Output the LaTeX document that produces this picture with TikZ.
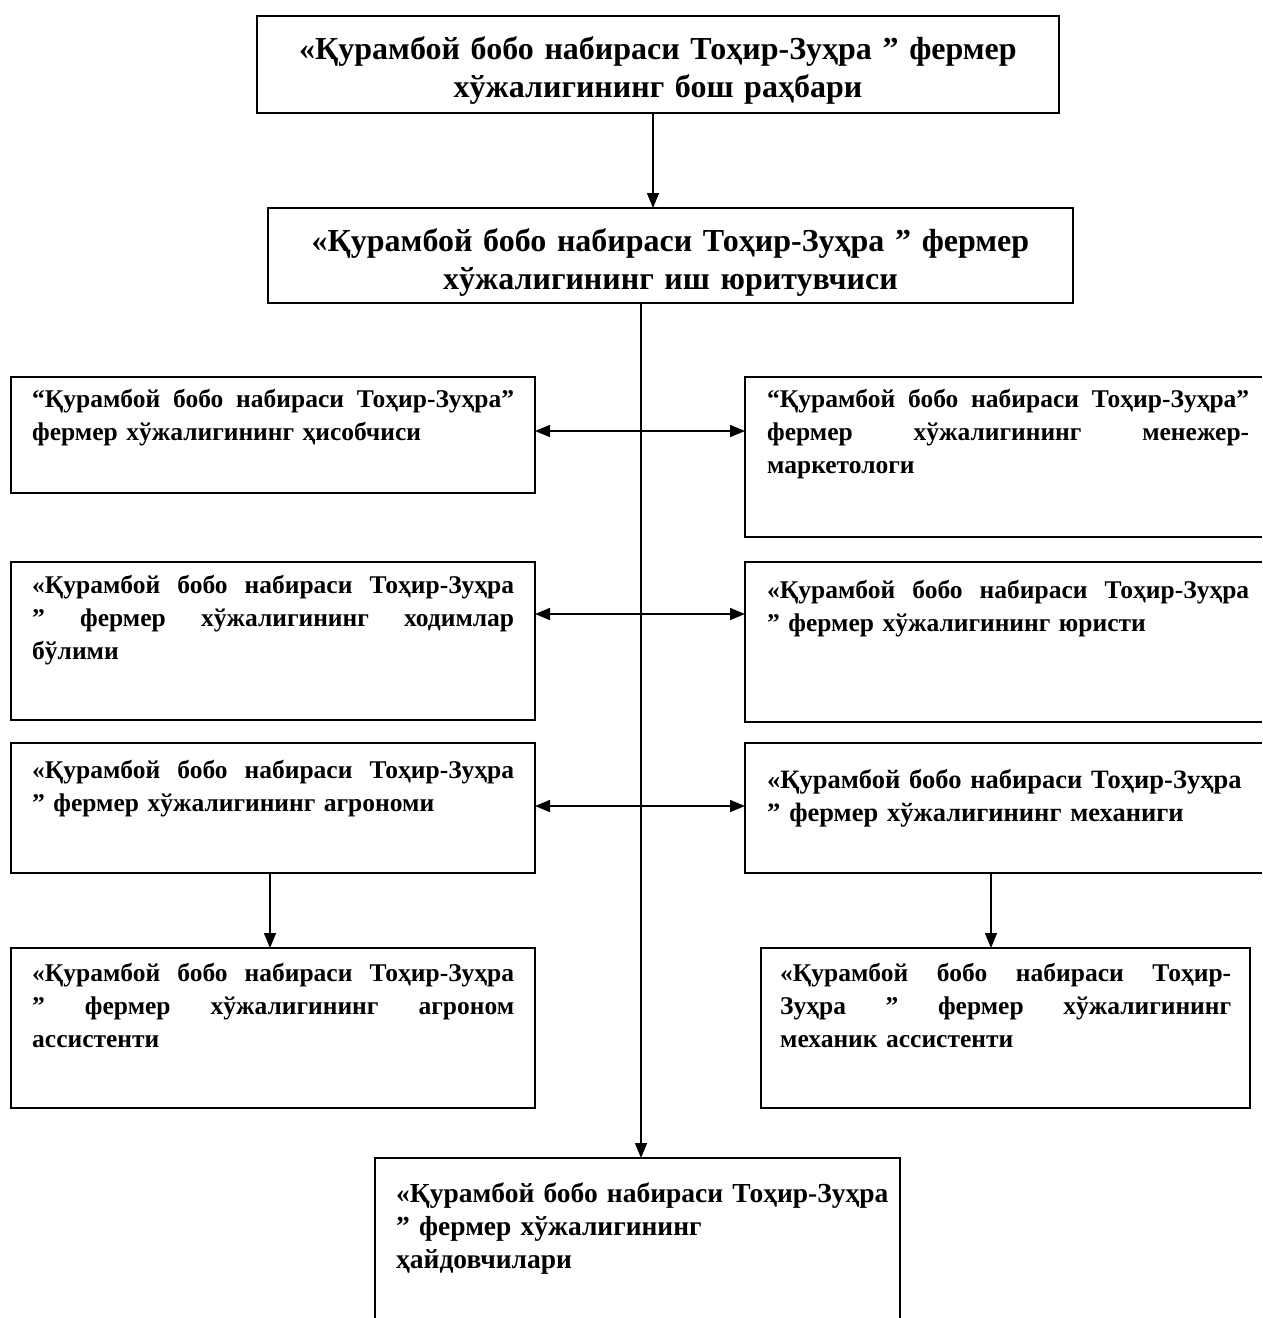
\documentclass[tikz,border=0pt]{standalone}
\usepackage{fontspec}
\setmainfont{Liberation Serif}
\usetikzlibrary{arrows.meta,calc}
\newcommand{\jl}[2]{\leavevmode\hbox to #1{\spaceskip=0.25em plus 1fil\relax\xspaceskip=0.25em plus 1fil\relax #2}}
\begin{document}
\begin{tikzpicture}[x=1pt,y=-1pt,
  frame/.style={draw=none,inner sep=0pt,outer sep=0pt,anchor=north west},
  boxline/.style={draw=black,line width=1.8pt},
  closedbox/.style={frame,draw=black,line width=1.8pt},
  toptext/.style={inner sep=0pt,text width=790pt,align=center,font=\fontsize{32}{38}\selectfont\bfseries,anchor=base},
  sidetext/.style={inner sep=0pt,anchor=base west,text width=482pt,align=left,font=\fontsize{25.5}{33}\selectfont\bfseries},
  conn/.style={line width=1.5pt},
  arr/.style={conn,-{Triangle[length=15pt,width=12pt]}}
]
\fill[white] (0,0) rectangle (1262,1318);
\useasboundingbox (0,0) rectangle (1262,1318);

% top boxes
\node[closedbox,minimum width=802pt,minimum height=97pt] (t1) at (257,16) {};
\node[toptext] (t1t) at ($(t1.north)+(0,43)$) {«Қурамбой бобо набираси Тоҳир-Зуҳра ” фермер\\хўжалигининг бош раҳбари};
\node[closedbox,minimum width=805pt,minimum height=95pt] (t2) at (268,208) {};
\node[toptext] (t2t) at ($(t2.north)+(0,43)$) {«Қурамбой бобо набираси Тоҳир-Зуҳра ” фермер\\хўжалигининг иш юритувчиси};

% left column
\node[closedbox,minimum width=524pt,minimum height=116pt] (l1) at (11,377) {};
\node[sidetext] (l1t) at (32,407) {\jl{482pt}{“Қурамбой бобо набираси Тоҳир-Зуҳра”}\\фермер хўжалигининг ҳисобчиси};
\node[closedbox,minimum width=524pt,minimum height=158pt] (l2) at (11,562) {};
\node[sidetext] (l2t) at (32,593) {\jl{482pt}{«Қурамбой бобо набираси Тоҳир-Зуҳра}\\\jl{482pt}{” фермер хўжалигининг ходимлар}\\бўлими};
\node[closedbox,minimum width=524pt,minimum height=130pt] (l3) at (11,743) {};
\node[sidetext] (l3t) at (32,778) {\jl{482pt}{«Қурамбой бобо набираси Тоҳир-Зуҳра}\\” фермер хўжалигининг агрономи};
\node[closedbox,minimum width=524pt,minimum height=160pt] (l4) at (11,948) {};
\node[sidetext] (l4t) at (32,981) {\jl{482pt}{«Қурамбой бобо набираси Тоҳир-Зуҳра}\\\jl{482pt}{” фермер хўжалигининг агроном}\\ассистенти};

% right column (cut at the right edge)
\node[frame,minimum width=517pt,minimum height=160pt] (r1) at (745,377) {};
\draw[boxline] (r1.north east) -- (r1.north west) -- (r1.south west) -- (r1.south east);
\node[sidetext] (r1t) at (767,407) {\jl{482pt}{“Қурамбой бобо набираси Тоҳир-Зуҳра”}\\\jl{482pt}{фермер хўжалигининг менежер-}\\маркетологи};
\node[frame,minimum width=517pt,minimum height=160pt] (r2) at (745,562) {};
\draw[boxline] (r2.north east) -- (r2.north west) -- (r2.south west) -- (r2.south east);
\node[sidetext] (r2t) at (767,598) {\jl{482pt}{«Қурамбой бобо набираси Тоҳир-Зуҳра}\\” фермер хўжалигининг юристи};
\node[frame,minimum width=517pt,minimum height=130pt] (r3) at (745,743) {};
\draw[boxline] (r3.north east) -- (r3.north west) -- (r3.south west) -- (r3.south east);
\node[sidetext,text width=495pt,font=\fontsize{26.5}{33}\selectfont\bfseries] (r3t) at (767,788) {«Қурамбой бобо набираси Тоҳир-Зуҳра\\” фермер хўжалигининг механиги};
\node[closedbox,minimum width=489pt,minimum height=160pt] (r4) at (761,948) {};
\node[sidetext,text width=451pt] (r4t) at (780,981) {\jl{451pt}{«Қурамбой бобо набираси Тоҳир-}\\\jl{451pt}{Зуҳра ” фермер хўжалигининг}\\механик ассистенти};

% bottom box (cut at the bottom edge)
\node[frame,minimum width=525pt,minimum height=160pt] (bot) at (375,1158) {};
\draw[boxline] (bot.south west) -- (bot.north west) -- (bot.north east) -- (bot.south east);
\node[sidetext,text width=510pt,font=\fontsize{27.5}{33}\selectfont\bfseries] (bott) at (396,1202) {«Қурамбой бобо набираси Тоҳир-Зуҳра\\” фермер хўжалигининг\\ҳайдовчилари};

% connectors
\coordinate (ta) at (653,0);
\coordinate (tr) at (641,0);
\coordinate (j1) at (641,431);
\coordinate (j2) at (641,614);
\coordinate (j3) at (641,806);
\coordinate (dl) at (270,0);
\coordinate (dr) at (991,0);
\draw[arr] (ta |- t1.south) -- (ta |- t2.north);
\draw[arr] (tr |- t2.south) -- (tr |- bot.north);
\draw[arr] (j1) -- (j1 -| l1.east);
\draw[arr] (j1) -- (j1 -| r1.west);
\draw[arr] (j2) -- (j2 -| l2.east);
\draw[arr] (j2) -- (j2 -| r2.west);
\draw[arr] (j3) -- (j3 -| l3.east);
\draw[arr] (j3) -- (j3 -| r3.west);
\draw[arr] (dl |- l3.south) -- (dl |- l4.north);
\draw[arr] (dr |- r3.south) -- (dr |- r4.north);
\end{tikzpicture}
\end{document}
